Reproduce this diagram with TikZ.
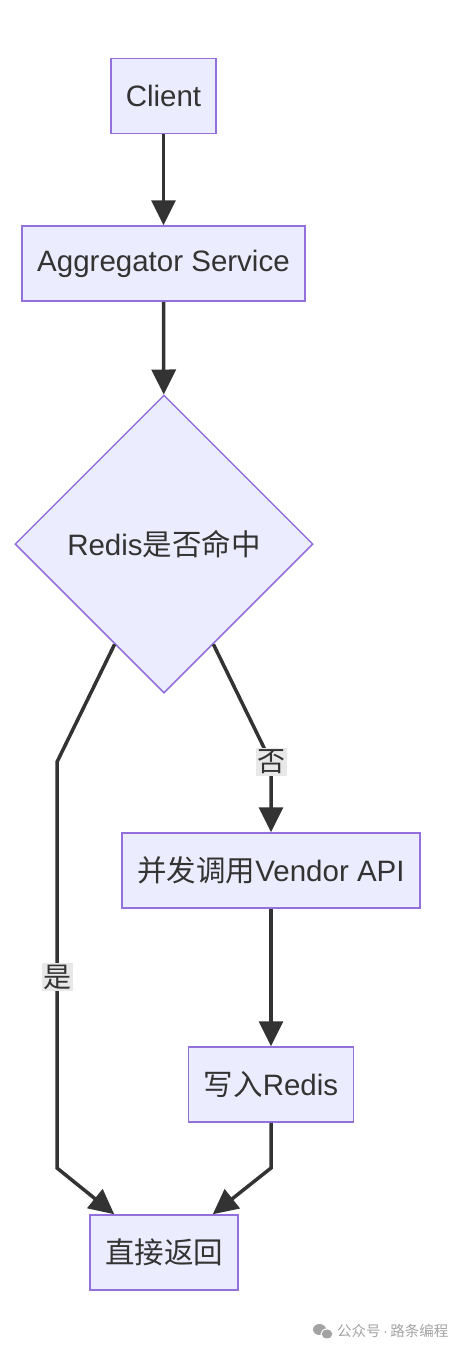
\documentclass[tikz,border=0pt]{standalone}
\usepackage{fontspec}
\setmainfont{Liberation Sans}
\newfontfamily\cjk{Noto Sans CJK SC}
\usetikzlibrary{arrows.meta,shapes.geometric,calc}
\definecolor{nodefill}{HTML}{ECECFF}
\definecolor{nodeline}{HTML}{9370DB}
\definecolor{ink}{HTML}{333333}
\definecolor{lblbg}{HTML}{E8E8E8}
\definecolor{wm}{HTML}{A3A3A3}
\begin{document}
\begin{tikzpicture}[x=1pt,y=-1pt,
  box/.style={draw=nodeline, fill=nodefill, line width=1.5pt, text=ink,
    font=\fontsize{29.5}{34}\selectfont, minimum height=75pt, inner sep=0pt},
  decision/.style={box, diamond, aspect=1, minimum width=298pt, minimum height=298pt},
  flow/.style={draw=ink, line width=3.5pt, line join=miter,
    -{Triangle[width=24pt,length=25pt]}},
  lbl/.style={fill=lblbg, text=ink, inner sep=1.5pt,
    font=\fontsize{28}{32}\selectfont\cjk}]
\useasboundingbox (0,0) rectangle (466,1350);

\node[box, minimum width=105pt] (c) at (163.5,96) {Client};
\node[box, minimum width=283pt] (a) at (163.5,263.5) {Aggregator Service};
\node[decision] (d) at (164,544) {Redis{\cjk 是否命中}};
\node[box, minimum width=298pt] (v) at (271,870.5) {{\cjk 并发调用}Vendor API};
\node[box, minimum width=165pt] (w) at (271,1084.5) {{\cjk 写入}Redis};
\node[box, minimum width=148pt] (r) at (164,1252.5) {\cjk 直接返回};

\coordinate (dl) at ($(d.south)!0.33!(d.west)$);
\coordinate (dr) at ($(d.south)!0.33!(d.east)$);
\coordinate (k1) at (57,762);
\coordinate (k2) at (57,1168);
\coordinate (k3) at (271,762);
\coordinate (k4) at (271,1168);
\coordinate (rl) at ($(r.north west)+(25,0)$);
\coordinate (rr) at ($(r.north east)+(-26,0)$);

\draw[flow] (c) -- (a);
\draw[flow] (a) -- (d);
\draw[flow] (dl) -- (k1) -- node[lbl, pos=0.53] {是} (k2) -- (rl);
\draw[flow] (dr) -- (k3) -- (v.north);
\node[lbl] (no) at (k3) {否};
\draw[flow] (v) -- (w);
\draw[flow] (w.south) -- (k4) -- (rr);

% watermark
\fill[wm] (319.5,1329.5) ellipse (6.5pt and 5.5pt);
\fill[wm, draw=white, line width=1pt] (327,1334) ellipse (6pt and 5pt);
\node[text=wm, font=\fontsize{14.5}{18}\selectfont, anchor=west, inner sep=0pt] (wmt) at (337,1331) {{\cjk 公众号}\,·\,{\cjk 路条编程}};
\end{tikzpicture}
\end{document}
